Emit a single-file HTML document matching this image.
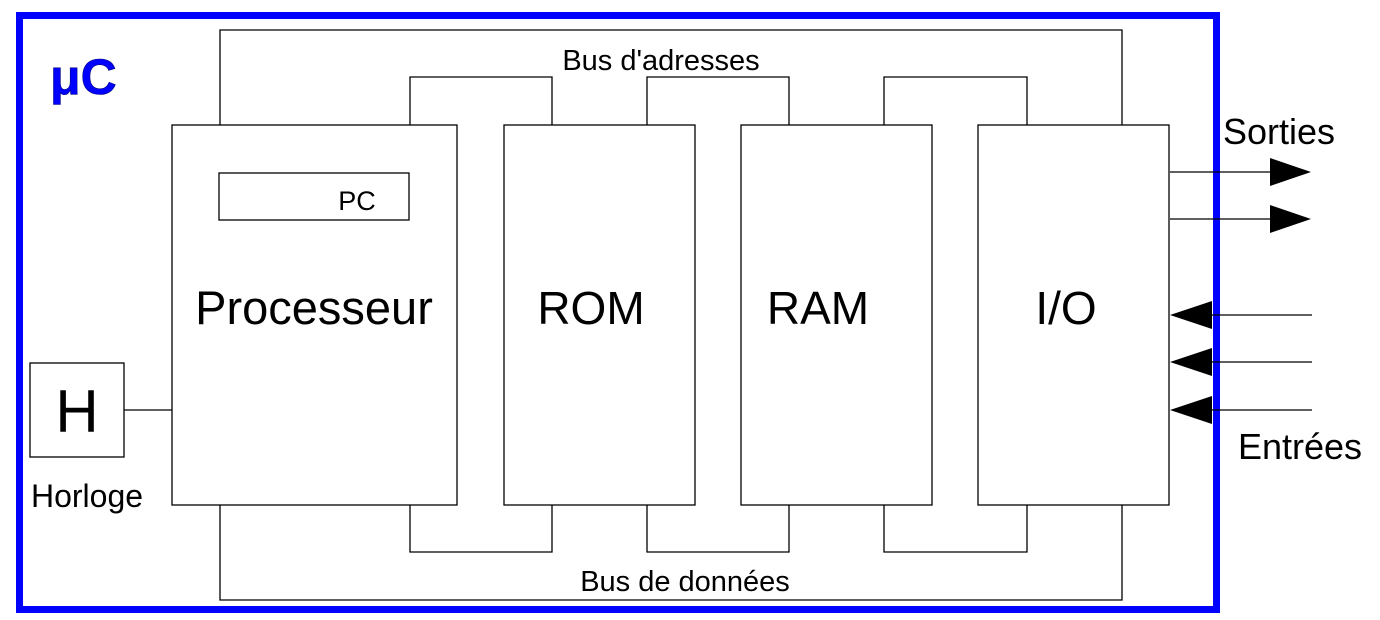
<!DOCTYPE html>
<html><head><meta charset="utf-8"><style>
body{margin:0;background:#fff;}
svg{display:block;font-family:"Liberation Sans",sans-serif;}
</style></head><body>
<svg width="1380" height="620" viewBox="0 0 1380 620">
<rect x="19.5" y="15.5" width="1197" height="594" fill="none" stroke="#0000ff" stroke-width="7"/>
<text x="50" y="94" font-size="50" font-weight="bold" fill="#0000ff" stroke="#000080" stroke-width="0.6">μC</text>
<g fill="none" stroke="#000" stroke-width="1.3">
<polyline points="220,125 220,30 1122,30 1122,125"/>
<polyline points="410,125 410,77 552,77 552,125"/>
<polyline points="647,125 647,77 789,77 789,125"/>
<polyline points="884,125 884,77 1027,77 1027,125"/>
<polyline points="220,505 220,600 1122,600 1122,505"/>
<polyline points="410,505 410,552 552,552 552,505"/>
<polyline points="647,505 647,552 789,552 789,505"/>
<polyline points="884,505 884,552 1027,552 1027,505"/>
<rect x="172" y="125" width="285" height="380" fill="#fff"/>
<rect x="504" y="125" width="191" height="380" fill="#fff"/>
<rect x="741" y="125" width="191" height="380" fill="#fff"/>
<rect x="978" y="125" width="191" height="380" fill="#fff"/>
<rect x="219" y="173" width="190" height="47"/>
<rect x="30" y="363" width="94" height="94"/>
<line x1="124" y1="410" x2="172" y2="410"/>
<line x1="1170" y1="172" x2="1272" y2="172"/>
<line x1="1170" y1="219" x2="1272" y2="219"/>
<line x1="1210" y1="315" x2="1312" y2="315"/>
<line x1="1210" y1="362" x2="1312" y2="362"/>
<line x1="1210" y1="410" x2="1312" y2="410"/>
</g>
<g fill="#000">
<polygon points="1270,158 1311,172 1270,186"/>
<polygon points="1270,205 1311,219 1270,233"/>
<polygon points="1212,301 1170,315 1212,329"/>
<polygon points="1212,348 1170,362 1212,376"/>
<polygon points="1212,396 1170,410 1212,424"/>
</g>
<g fill="#000" text-anchor="middle">
<text x="661" y="70" font-size="29">Bus d'adresses</text>
<text x="685" y="591" font-size="29">Bus de données</text>
<text x="357" y="210" font-size="27">PC</text>
<text x="314" y="324" font-size="47">Processeur</text>
<text x="591" y="324" font-size="46">ROM</text>
<text x="818" y="324" font-size="46">RAM</text>
<text x="1066" y="324" font-size="46">I/O</text>
<text x="77" y="432" font-size="60">H</text>
<text x="87" y="507" font-size="32">Horloge</text>
<text x="1279" y="144" font-size="36">Sorties</text>
<text x="1300" y="459" font-size="36">Entrées</text>
</g>
</svg>
</body></html>
